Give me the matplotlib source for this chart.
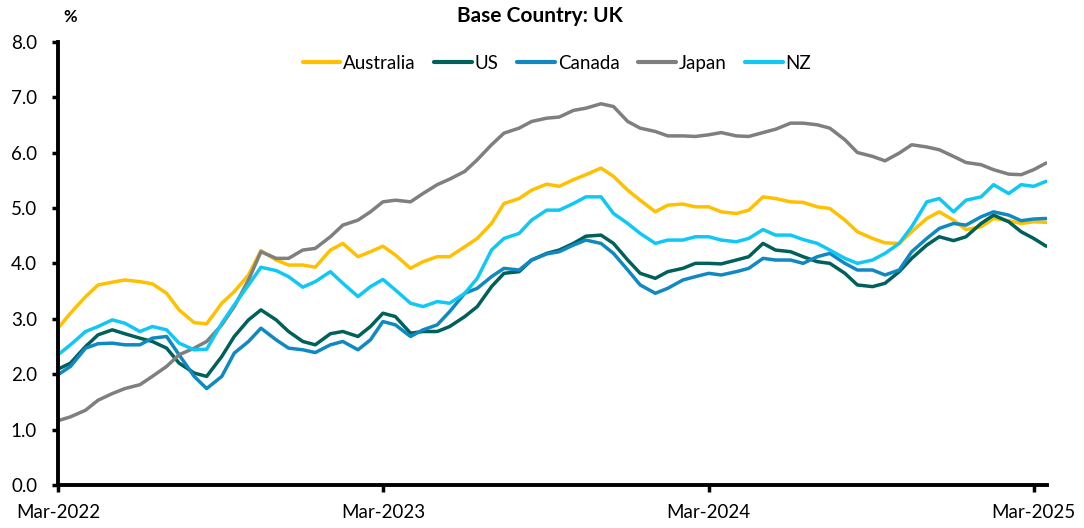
import matplotlib
matplotlib.use("Agg")
import matplotlib.pyplot as plt
import matplotlib.dates as mdates
import pandas as pd
import numpy as np

plt.rcParams['font.family'] = ['Lato', 'DejaVu Sans']

dates = pd.date_range('2022-03-01', '2025-03-15', freq='SMS')

australia = [2.83, 3.10, 3.40, 3.61, 3.66, 3.70, 3.67, 3.63, 3.46, 3.16,
             2.93, 2.91, 3.28, 3.49, 3.79, 4.23, 4.06, 3.97, 3.97, 3.93,
             4.24, 4.36, 4.12, 4.21, 4.31, 4.15, 3.91, 4.03, 4.12, 4.12,
             4.30, 4.45, 4.72, 5.08, 5.17, 5.32, 5.43, 5.39, 5.51, 5.60,
             5.72, 5.57, 5.32, 5.14, 4.93, 5.05, 5.07, 5.02, 5.02, 4.93,
             4.90, 4.96, 5.20, 5.17, 5.11, 5.10, 5.02, 4.99, 4.78, 4.57,
             4.45, 4.37, 4.36, 4.57, 4.81, 4.93, 4.78, 4.61, 4.66, 4.81,
             4.77, 4.72, 4.75, 4.74]

us = [2.09, 2.20, 2.50, 2.71, 2.80, 2.73, 2.65, 2.59, 2.47, 2.20,
      2.02, 1.96, 2.32, 2.68, 2.98, 3.16, 2.98, 2.77, 2.59, 2.53,
      2.73, 2.77, 2.68, 2.86, 3.10, 3.04, 2.74, 2.77, 2.77, 2.86,
      3.04, 3.22, 3.58, 3.82, 3.85, 4.06, 4.18, 4.24, 4.36, 4.49,
      4.51, 4.36, 4.06, 3.82, 3.73, 3.85, 3.91, 4.00, 4.00, 3.99,
      4.06, 4.12, 4.36, 4.24, 4.21, 4.12, 4.03, 4.00, 3.82, 3.61,
      3.58, 3.64, 3.85, 4.09, 4.33, 4.48, 4.41, 4.48, 4.72, 4.87,
      4.75, 4.57, 4.45, 4.31]

canada = [1.99, 2.14, 2.47, 2.55, 2.56, 2.53, 2.53, 2.65, 2.68, 2.35,
          1.96, 1.74, 1.96, 2.38, 2.59, 2.83, 2.62, 2.47, 2.44, 2.39,
          2.53, 2.59, 2.44, 2.62, 2.95, 2.89, 2.68, 2.80, 2.89, 3.13,
          3.46, 3.55, 3.76, 3.91, 3.88, 4.06, 4.17, 4.21, 4.33, 4.42,
          4.36, 4.18, 3.88, 3.61, 3.46, 3.55, 3.70, 3.76, 3.82, 3.79,
          3.85, 3.91, 4.09, 4.06, 4.06, 4.00, 4.12, 4.18, 4.00, 3.88,
          3.88, 3.79, 3.88, 4.21, 4.45, 4.63, 4.72, 4.69, 4.84, 4.93,
          4.87, 4.77, 4.80, 4.81]

japan = [1.16, 1.23, 1.35, 1.53, 1.65, 1.74, 1.81, 1.96, 2.14, 2.35,
         2.47, 2.59, 2.89, 3.22, 3.70, 4.21, 4.09, 4.09, 4.24, 4.27,
         4.48, 4.69, 4.78, 4.93, 5.11, 5.14, 5.11, 5.26, 5.42, 5.52,
         5.66, 5.87, 6.14, 6.35, 6.44, 6.56, 6.62, 6.64, 6.76, 6.80,
         6.88, 6.83, 6.56, 6.44, 6.38, 6.30, 6.30, 6.29, 6.32, 6.36,
         6.30, 6.29, 6.36, 6.42, 6.53, 6.53, 6.50, 6.44, 6.23, 6.00,
         5.93, 5.85, 5.99, 6.14, 6.10, 6.05, 5.93, 5.82, 5.78, 5.69,
         5.61, 5.60, 5.69, 5.81]

nz = [2.35, 2.53, 2.77, 2.86, 2.98, 2.92, 2.77, 2.86, 2.80, 2.56,
      2.44, 2.45, 2.92, 3.25, 3.61, 3.93, 3.87, 3.76, 3.57, 3.67,
      3.85, 3.64, 3.40, 3.58, 3.71, 3.52, 3.28, 3.22, 3.31, 3.28,
      3.46, 3.73, 4.24, 4.45, 4.54, 4.78, 4.96, 4.96, 5.08, 5.20,
      5.20, 4.90, 4.72, 4.54, 4.36, 4.42, 4.42, 4.48, 4.48, 4.42,
      4.39, 4.45, 4.61, 4.51, 4.51, 4.43, 4.36, 4.24, 4.09, 4.00,
      4.06, 4.18, 4.36, 4.66, 5.11, 5.17, 4.93, 5.14, 5.20, 5.42,
      5.26, 5.42, 5.39, 5.48]

series = [("Australia", australia, "#FFC000"),
          ("US", us, "#00605A"),
          ("Canada", canada, "#1089C2"),
          ("Japan", japan, "#7F7F7F"),
          ("NZ", nz, "#10C8F4")]

yticks = [0, 1, 2, 3, 4, 5, 6, 7, 8]
xtick_dates = pd.to_datetime(['2022-03-01', '2023-03-01', '2024-03-01', '2025-03-01'])
xtick_labels = ['Mar-2022', 'Mar-2023', 'Mar-2024', 'Mar-2025']

fig = plt.figure(figsize=(10.84, 5.28), dpi=100)
ax = fig.add_axes([58/1084, 1-485/528, (1047-58)/1084, (485-41.7)/528])

for name, vals, col in series:
    ax.plot(dates, vals, color=col, lw=2.5, label=name, solid_capstyle='round')

ax.set_ylim(0, 8)
ax.set_yticks(yticks)
ax.set_yticklabels([f"{v:.1f}" for v in yticks])
ax.set_xlim(dates[0], dates[-1] + pd.Timedelta(days=1))
ax.set_xticks(xtick_dates)
ax.set_xticklabels(xtick_labels)

for s in ['top', 'right']:
    ax.spines[s].set_visible(False)
for s in ['left', 'bottom']:
    ax.spines[s].set_linewidth(2.8)
    ax.spines[s].set_color('black')
ax.spines['left'].set_capstyle('projecting')

ax.tick_params(axis='y', direction='out', length=4, width=2.5, pad=11,
               labelsize=13.5, colors='black')
ax.tick_params(axis='x', direction='out', length=5, width=2.5, pad=9,
               labelsize=13.5, colors='black')

fig.text(540/1084, 1-16/528, "Base Country: UK", ha='center', va='center',
         fontsize=15, fontweight='bold', color='black')
fig.text(70/1084, 1-17/528, "%", ha='center', va='center',
         fontsize=12, fontweight='bold', color='black')

leg = ax.legend(loc='center', bbox_to_anchor=(557/1084, 1-63/528),
                bbox_transform=fig.transFigure, ncol=5, frameon=False,
                fontsize=13.5, handlelength=2.0, handletextpad=0.15,
                columnspacing=1.0)
for line in leg.get_lines():
    line.set_linewidth(3)

fig.savefig("out.png", dpi=100)
